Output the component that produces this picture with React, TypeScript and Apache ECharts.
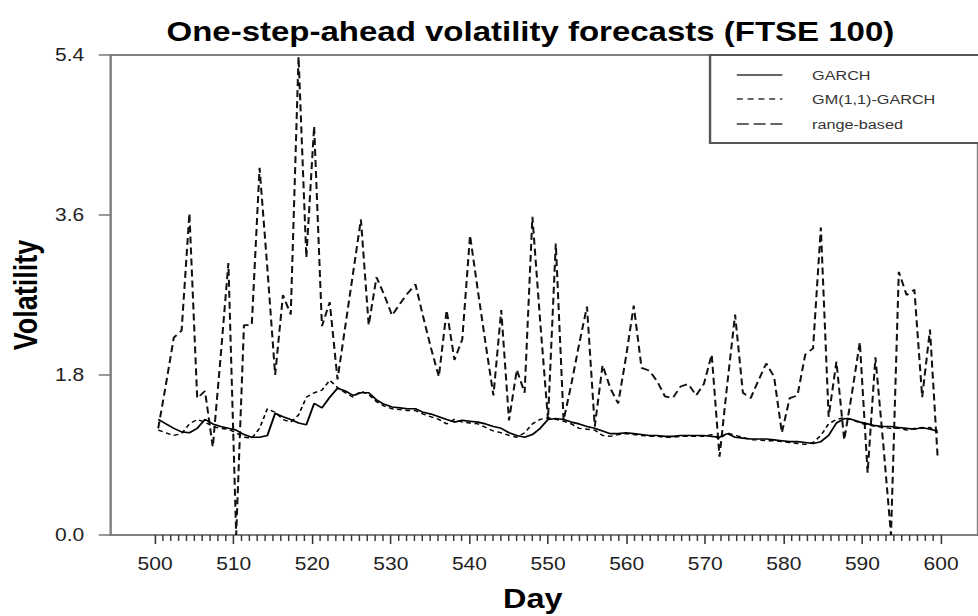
import React, { useEffect, useRef } from 'react';
import * as echarts from 'echarts';

const DAYS = Array.from({ length: 101 }, (_, i) => 500 + i);

const SERIES_NAMES = ['GARCH', 'GM(1,1)-GARCH', 'range-based'];

const GARCH = [
  1.3, 1.25, 1.2, 1.16, 1.15, 1.2, 1.3, 1.25, 1.22, 1.2,
  1.18, 1.13, 1.1, 1.1, 1.12, 1.37, 1.33, 1.3, 1.26, 1.24,
  1.48, 1.43, 1.55, 1.65, 1.62, 1.57, 1.6, 1.6, 1.52, 1.47,
  1.44, 1.43, 1.42, 1.42, 1.38, 1.36, 1.33, 1.3, 1.27, 1.29,
  1.28, 1.27, 1.25, 1.22, 1.2, 1.15, 1.12, 1.1, 1.13, 1.2,
  1.3, 1.31, 1.3, 1.27, 1.25, 1.22, 1.2, 1.17, 1.14, 1.14,
  1.15, 1.14, 1.13, 1.12, 1.12, 1.11, 1.11, 1.12, 1.12, 1.12,
  1.12, 1.11, 1.1, 1.14, 1.1, 1.09, 1.08, 1.08, 1.08, 1.07,
  1.06, 1.05, 1.05, 1.04, 1.03, 1.05, 1.12, 1.26, 1.31, 1.3,
  1.27, 1.25, 1.23, 1.22, 1.22, 1.21, 1.2, 1.19, 1.21, 1.19,
  1.17,
];

const GM_GARCH = [
  1.18, 1.15, 1.12, 1.14, 1.25, 1.3, 1.27, 1.22, 1.2, 1.19,
  1.15, 1.1, 1.09, 1.2, 1.42, 1.38, 1.3, 1.27, 1.35, 1.55,
  1.6, 1.63, 1.74, 1.66, 1.6, 1.55, 1.62, 1.58, 1.5, 1.45,
  1.42, 1.41, 1.4, 1.4, 1.36, 1.33, 1.3, 1.25, 1.3, 1.27,
  1.26, 1.25, 1.21, 1.17, 1.15, 1.12, 1.1, 1.15, 1.25, 1.3,
  1.32, 1.3, 1.28, 1.25, 1.2, 1.19, 1.18, 1.12, 1.11, 1.13,
  1.14, 1.13, 1.12, 1.11, 1.11, 1.1, 1.1, 1.11, 1.11, 1.11,
  1.11, 1.13, 1.08, 1.15, 1.12, 1.1, 1.07, 1.07, 1.06, 1.06,
  1.05, 1.04, 1.03, 1.02, 1.04, 1.12, 1.25, 1.3, 1.32, 1.3,
  1.26, 1.24, 1.22, 1.21, 1.2, 1.2, 1.18, 1.2, 1.2, 1.21,
  1.15,
];

const RANGE_BASED = [
  1.2, 1.7, 2.22, 2.3, 3.62, 1.54, 1.62, 0.99, 2.0, 3.06,
  0.0, 2.36, 2.36, 4.13, 3.0, 1.8, 2.7, 2.48, 5.38, 3.12,
  4.6, 2.35, 2.62, 1.75, 2.35, 2.95, 3.55, 2.36, 2.9, 2.7,
  2.47, 2.6, 2.72, 2.82, 2.45, 2.1, 1.78, 2.53, 1.97, 2.2,
  3.37, 2.75, 2.15, 1.57, 2.53, 1.29, 1.86, 1.6, 3.58, 2.4,
  1.3, 3.28, 1.29, 1.7, 2.15, 2.57, 1.22, 1.91, 1.65, 1.48,
  2.0, 2.58, 1.88, 1.85, 1.73, 1.56, 1.54, 1.67, 1.7, 1.57,
  1.7, 2.03, 0.88, 1.7, 2.48, 1.6, 1.54, 1.74, 1.93, 1.78,
  1.15, 1.54, 1.57, 2.03, 2.1, 3.46, 1.33, 1.95, 1.07, 1.6,
  2.17, 0.7, 2.0, 1.03, 0.0, 2.96, 2.7, 2.76, 1.55, 2.31,
  0.85,
];

const Y_MIN = 0;
const Y_MAX = 5.4;
const Y_STEP = 1.8;
const X_FIRST = 500;
const X_LAST = 600;
const X_STEP = 10;
const MINOR_TICKS = DAYS.filter((d) => d % X_STEP !== 0);

const FONT = '"Liberation Sans", Arial, Helvetica, sans-serif';
const W = 815;
const H = 616;

const LINE_STYLES: any[] = [
  { color: '#000', width: 1.6, type: 'solid' },
  { color: '#000', width: 1.4, type: [4, 3] },
  { color: '#111', width: 1.7, type: [7, 4] },
];
const LEGEND_DASH: any[] = [null, [5, 4], [10, 4]];

const TICK_GRID = { left: 129.2, right: 30.8, top: 55, bottom: 81 };

export default function App() {
  const ref = useRef<HTMLDivElement>(null);

  useEffect(() => {
    if (!ref.current) return;
    const chart = echarts.init(ref.current, null, { renderer: 'svg' });
    const seriesValues = [GARCH, GM_GARCH, RANGE_BASED];

    const legendY = [75, 99, 124];
    const legendGraphics: any[] = [
      {
        type: 'rect',
        shape: { x: 591.7, y: 55, width: 400, height: 88 },
        style: { fill: '#fff', stroke: '#555', lineWidth: 2 },
        z: 10,
      },
    ];
    SERIES_NAMES.forEach((name, i) => {
      legendGraphics.push({
        type: 'line',
        shape: { x1: 614, y1: legendY[i], x2: 652, y2: legendY[i] },
        style: { stroke: '#333', lineWidth: 1.6, lineDash: LEGEND_DASH[i] },
        z: 11,
      });
      legendGraphics.push({
        type: 'text',
        x: 676.7,
        y: legendY[i],
        style: {
          text: name,
          fill: '#333',
          font: `13.5px ${FONT}`,
          textAlign: 'left',
          textVerticalAlign: 'middle',
        },
        z: 11,
      });
    });

    chart.setOption({
      animation: false,
      backgroundColor: '#fff',
      title: [
        {
          text: 'One-step-ahead volatility forecasts (FTSE 100)',
          left: 437,
          top: 12,
          textAlign: 'center',
          textStyle: { fontFamily: FONT, fontSize: 27.5, fontWeight: 'bold', color: '#000' },
        },
        {
          text: 'Day',
          left: 439,
          top: 580,
          textAlign: 'center',
          textStyle: { fontFamily: FONT, fontSize: 27, fontWeight: 'bold', color: '#000' },
        },
      ],
      grid: [
        {
          left: 89.2,
          right: -3,
          top: 55,
          bottom: 81,
          show: true,
          borderColor: '#7f7f7f',
          borderWidth: 2,
          backgroundColor: 'transparent',
        },
        { ...TICK_GRID },
      ],
      xAxis: [
        {
          type: 'value',
          gridIndex: 0,
          min: 493.9,
          max: 605.16,
          axisLine: { show: false },
          axisTick: { show: false },
          axisLabel: { show: false },
          splitLine: { show: false },
        },
        {
          type: 'value',
          gridIndex: 1,
          min: X_FIRST,
          max: X_LAST,
          interval: X_STEP,
          axisLine: { show: false },
          axisTick: { show: true, length: 9, lineStyle: { color: '#333', width: 1.3 } },
          axisLabel: {
            fontSize: 17.5,
            margin: 20,
            color: '#222',
            fontFamily: FONT,
          },
          splitLine: { show: false },
          z: 5,
        },
      ],
      yAxis: [
        {
          type: 'value',
          gridIndex: 0,
          min: Y_MIN,
          max: Y_MAX,
          interval: Y_STEP,
          name: 'Volatility',
          nameLocation: 'middle',
          nameGap: 56,
          nameTextStyle: { fontFamily: FONT, fontSize: 27, fontWeight: 'bold', color: '#000' },
          axisLine: { show: false },
          axisTick: { show: true, length: 10, lineStyle: { color: '#777', width: 1.5 } },
          axisLabel: {
            formatter: (v: number) => v.toFixed(1),
            fontSize: 17.5,
            margin: 22,
            color: '#222',
            fontFamily: FONT,
          },
          splitLine: { show: false },
        },
        { type: 'value', gridIndex: 1, show: false, min: Y_MIN, max: Y_MAX },
      ],
      series: SERIES_NAMES.map((name, i) => ({
        name,
        type: 'line',
        xAxisIndex: 0,
        yAxisIndex: 0,
        showSymbol: false,
        symbol: 'none',
        lineStyle: LINE_STYLES[i],
        data: DAYS.map((d, j) => [d, seriesValues[i][j]]),
        z: 3 - i,
      })),
      graphic: legendGraphics,
    });

    // Minor ticks (one per day), positioned through the axis scale of xAxis[1].
    const tickGraphics: any[] = [];
    const y0 = chart.convertToPixel({ yAxisIndex: 1 }, Y_MIN) as unknown as number;
    MINOR_TICKS.forEach((d) => {
      const px = chart.convertToPixel({ xAxisIndex: 1 }, d) as unknown as number;
      if (typeof px === 'number' && isFinite(px) && typeof y0 === 'number' && isFinite(y0)) {
        tickGraphics.push({
          type: 'line',
          shape: { x1: px, y1: y0, x2: px, y2: y0 + 6 },
          style: { stroke: '#333', lineWidth: 1.2 },
          silent: true,
          z: 5,
        });
      }
    });
    if (tickGraphics.length) {
      chart.setOption({ graphic: [...legendGraphics, ...tickGraphics] });
    }

    return () => chart.dispose();
  }, []);

  return (
    <div
      ref={ref}
      style={{
        position: 'absolute',
        left: 0,
        top: 0,
        width: W,
        height: H,
        transform: 'scaleX(1.2)',
        transformOrigin: '0 0',
      }}
    />
  );
}
